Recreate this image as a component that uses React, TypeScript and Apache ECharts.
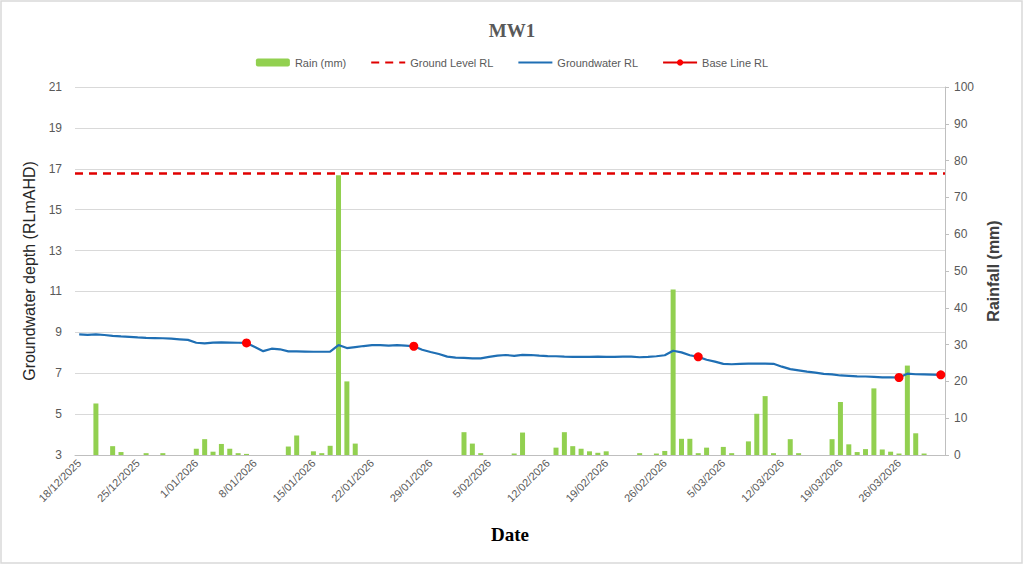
import React, { useEffect, useRef } from 'react';
import * as echarts from 'echarts';

// daily record, 18/12/2025 .. 30/03/2026
const START = { year: 2025, month: 11, day: 18 };
const DAY_COUNT = 104;

// daily rainfall (mm)
const rainMm = [
  0, 0, 14.0, 0, 2.4, 0.8, 0, 0, 0.5, 0,
  0.5, 0, 0, 0, 1.7, 4.3, 0.9, 3.0, 1.7, 0.5,
  0.3, 0, 0, 0, 0, 2.3, 5.3, 0, 1.0, 0.5,
  2.5, 76, 20, 3.1, 0, 0, 0, 0, 0, 0,
  0, 0, 0, 0, 0, 0, 6.2, 3.1, 0.5, 0,
  0, 0, 0.4, 6.1, 0, 0, 0, 2.0, 6.2, 2.4,
  1.7, 1.0, 0.6, 1.0, 0, 0, 0, 0.5, 0, 0.4,
  1.1, 45, 4.4, 4.4, 0.5, 2.0, 0, 2.2, 0.5, 0,
  3.7, 11.2, 16, 0.5, 0, 4.3, 0.5, 0, 0, 0,
  4.3, 14.4, 2.9, 0.8, 1.6, 18.1, 1.5, 0.9, 0.4, 24.3,
  5.9, 0.4, 0, 0,
];

// logger groundwater level (RLmAHD)
const groundwaterRL = [
  8.90, 8.88, 8.90, 8.87, 8.83, 8.80, 8.78, 8.75, 8.73, 8.72,
  8.71, 8.69, 8.66, 8.63, 8.49, 8.46, 8.50, 8.51, 8.50, 8.49,
  8.48, 8.28, 8.08, 8.20, 8.17, 8.07, 8.07, 8.06, 8.05, 8.05,
  8.06, 8.38, 8.23, 8.28, 8.33, 8.37, 8.37, 8.35, 8.37, 8.35,
  8.32, 8.15, 8.04, 7.94, 7.81, 7.76, 7.75, 7.73, 7.73, 7.80,
  7.86, 7.89, 7.85, 7.90, 7.89, 7.86, 7.84, 7.83, 7.81, 7.80,
  7.80, 7.80, 7.81, 7.80, 7.80, 7.81, 7.81, 7.78, 7.80, 7.83,
  7.88, 8.10, 8.02, 7.88, 7.80, 7.66, 7.57, 7.46, 7.44, 7.46,
  7.47, 7.47, 7.47, 7.46, 7.32, 7.20, 7.14, 7.08, 7.03, 6.97,
  6.94, 6.89, 6.87, 6.85, 6.84, 6.82, 6.80, 6.80, 6.79, 6.98,
  6.95, 6.94, 6.93, 6.92,
];

// manual dip readings (day index from start)
const baseLineDays = [20, 40, 74, 98, 103];
const baseLineRL = [8.48, 8.32, 7.8, 6.79, 6.92];

const GROUND_LEVEL_RL = 16.78;

const labelFont = "'Liberation Sans', Arial, sans-serif";
const narrowFont = "'Liberation Sans Narrow', 'Arial Narrow', 'Liberation Sans', sans-serif";
const serifFont = "'Liberation Serif', 'Times New Roman', serif";

const pad2 = (n: number) => (n < 10 ? '0' + n : String(n));

const dates: string[] = [];
for (let i = 0; i < DAY_COUNT; i++) {
  const d = new Date(START.year, START.month, START.day + i);
  dates.push(`${d.getDate()}/${pad2(d.getMonth() + 1)}/${d.getFullYear()}`);
}

// legend entries for plain lines: hide the marker echarts draws by default
const noMarker = { color: 'rgba(0,0,0,0)', borderWidth: 0 };

export default function App() {
  const chartRef = useRef<HTMLDivElement>(null);

  useEffect(() => {
    document.body.style.margin = '0';
    if (!chartRef.current) return;
    const chart = echarts.init(chartRef.current, undefined, { renderer: 'svg' });

    const baseLineData: (number | string)[] = dates.map(() => '-');
    baseLineDays.forEach((day, i) => {
      baseLineData[day] = baseLineRL[i];
    });

    const option: echarts.EChartsOption = {
      animation: false,
      backgroundColor: '#fff',
      title: {
        text: 'MW1',
        left: 'center',
        top: 16,
        textStyle: {
          fontFamily: serifFont,
          fontSize: 19,
          fontWeight: 'bold',
          color: '#595959',
        },
      },
      legend: {
        top: 52,
        left: 'center',
        itemWidth: 34,
        itemHeight: 8,
        itemGap: 24,
        textStyle: { fontFamily: narrowFont, fontSize: 11, color: '#595959' },
        data: [
          { name: 'Rain (mm)' },
          { name: 'Ground Level RL', itemStyle: noMarker },
          { name: 'Groundwater RL', itemStyle: noMarker },
          { name: 'Base Line RL' },
        ],
      },
      grid: { left: 75, right: 79, top: 87, bottom: 110 },
      xAxis: {
        type: 'category',
        data: dates,
        boundaryGap: true,
        axisLine: { lineStyle: { color: '#bfbfbf', width: 1 } },
        axisTick: { show: false },
        axisLabel: {
          interval: 6,
          rotate: 45,
          margin: 6,
          fontFamily: labelFont,
          fontSize: 11,
          color: '#595959',
        },
        name: 'Date',
        nameLocation: 'middle',
        nameGap: 70,
        nameTextStyle: {
          fontFamily: serifFont,
          fontSize: 19,
          fontWeight: 'bold',
          color: '#000',
        },
      },
      yAxis: [
        {
          type: 'value',
          min: 3,
          max: 21,
          interval: 2,
          axisLine: { show: false },
          axisTick: { show: false },
          axisLabel: { margin: 13, fontFamily: labelFont, fontSize: 12, color: '#595959' },
          splitLine: { lineStyle: { color: '#d9d9d9', width: 1 } },
          name: 'Groundwater depth (RLmAHD)',
          nameLocation: 'middle',
          nameRotate: 90,
          nameGap: 34,
          nameTextStyle: { fontFamily: labelFont, fontSize: 16, color: '#262626' },
        },
        {
          type: 'value',
          min: 0,
          max: 100,
          interval: 10,
          position: 'right',
          axisLine: { show: true, lineStyle: { color: '#bfbfbf' } },
          axisTick: { show: true, length: 4, lineStyle: { color: '#bfbfbf' } },
          axisLabel: { margin: 9, fontFamily: labelFont, fontSize: 12, color: '#595959' },
          splitLine: { show: false },
          name: 'Rainfall (mm)',
          nameLocation: 'middle',
          nameRotate: 90,
          nameGap: 40,
          nameTextStyle: {
            fontFamily: labelFont,
            fontSize: 16,
            fontWeight: 'bold',
            color: '#404040',
          },
        },
      ],
      graphic: [
        {
          type: 'rect',
          shape: { x: 1, y: 1, width: 1021, height: 562 },
          style: { fill: 'none', stroke: '#d9d9d9', lineWidth: 1.5 },
          silent: true,
        },
      ],
      series: [
        {
          name: 'Rain (mm)',
          type: 'bar',
          yAxisIndex: 1,
          data: rainMm,
          barWidth: 5,
          itemStyle: { color: '#92d050' },
          z: 1,
        },
        {
          name: 'Ground Level RL',
          type: 'line',
          yAxisIndex: 0,
          data: [],
          symbol: 'none',
          lineStyle: { color: '#e00000', width: 2.5, type: [8, 6] },
          itemStyle: { color: '#e00000' },
          markLine: {
            silent: true,
            symbol: 'none',
            label: { show: false },
            lineStyle: { color: '#e00000', width: 2.5, type: [8, 6] },
            data: [{ yAxis: GROUND_LEVEL_RL }],
          },
          z: 3,
        },
        {
          name: 'Groundwater RL',
          type: 'line',
          yAxisIndex: 0,
          data: groundwaterRL,
          symbol: 'none',
          showSymbol: false,
          lineStyle: { color: '#1f6fb4', width: 2.2 },
          itemStyle: { color: '#1f6fb4' },
          z: 4,
        },
        {
          name: 'Base Line RL',
          type: 'line',
          yAxisIndex: 0,
          data: baseLineData,
          connectNulls: false,
          symbol: 'circle',
          symbolSize: 9,
          showAllSymbol: true,
          lineStyle: { color: '#e00000', width: 2 },
          itemStyle: { color: '#ff0000' },
          z: 5,
        },
      ],
    };

    chart.setOption(option);

    return () => {
      chart.dispose();
    };
  }, []);

  return <div ref={chartRef} style={{ width: 1024, height: 565 }} />;
}
